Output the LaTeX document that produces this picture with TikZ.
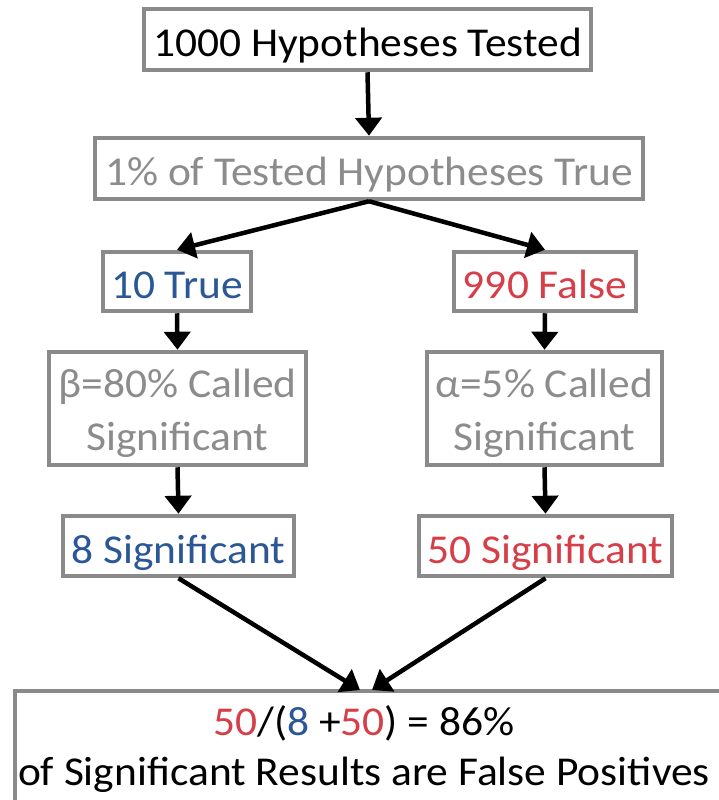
\documentclass[tikz,border=0pt]{standalone}
\usepackage{fontspec}
\setmainfont{Carlito}[FakeStretch=1.06]
\usetikzlibrary{arrows.meta}
\definecolor{boxgray}{HTML}{8A8A8A}
\definecolor{txtgray}{HTML}{8C8C8C}
\definecolor{tblue}{HTML}{2B5797}
\definecolor{tred}{HTML}{D63E48}
\newcommand{\firststrut}{\rule{0pt}{38pt}}
\begin{document}
\begin{tikzpicture}[x=1pt,y=-1pt,
  box/.style={draw=boxgray, line width=4.5pt, inner sep=0pt, fill=white,
    font=\fontsize{41}{53}\selectfont},
  oneline/.style={text height=34pt, text depth=0pt},
  twoline/.style={align=center},
  flow/.style={-{Triangle[width=26pt,length=18pt]}, line width=4.5pt, black}]
\useasboundingbox (0,0) rectangle (719,800);
\fill[white] (0,0) rectangle (719,800);

\node[box, oneline, minimum width=447pt, minimum height=61pt] (hyp) at (367.5,39.5) {1000 Hypotheses Tested};
\node[box, oneline, minimum width=548pt, minimum height=61pt, text=txtgray] (pct) at (369,168.5) {1\% of Tested Hypotheses True};
\node[box, oneline, minimum width=148pt, minimum height=59pt, text=tblue] (tr) at (177,281.5) {10 True};
\node[box, oneline, minimum width=182pt, minimum height=59pt, text=tred] (fl) at (545,281.5) {990 False};
\node[box, twoline, minimum width=257pt, minimum height=113pt, text=txtgray] (beta) at (177.5,408.5) {\firststrut β=80\% Called\\Significant};
\node[box, twoline, minimum width=235pt, minimum height=113pt, text=txtgray] (alpha) at (544.5,408.5) {\firststrut α=5\% Called\\Significant};
\node[box, oneline, minimum width=231pt, minimum height=60pt, text=tblue] (sig8) at (178.5,546) {8 Significant};
\node[box, oneline, minimum width=253pt, minimum height=60pt, text=tred] (sig50) at (545.5,546) {50 Significant};

\node[draw=boxgray, line width=4.5pt, inner sep=0pt, minimum width=720pt, minimum height=114pt] (res) at (375,748) {};
\node[inner sep=0pt, align=center, font=\fontsize{41}{50}\selectfont] (restext) at (364,749)
  {\textcolor{tred}{50}/(\textcolor{tblue}{8} +\textcolor{tred}{50}) = 86\%\\of Significant Results are False Positives};

\coordinate (inl) at (360,690);
\coordinate (inr) at (372,690);

\draw[flow] (hyp.south) -- (pct.north);
\draw[flow] (pct.south) -- (tr.north);
\draw[flow] (pct.south) -- (fl.north);
\draw[flow] (tr.south) -- (beta.north);
\draw[flow] (fl.south) -- (alpha.north);
\draw[flow] (beta.south) -- (sig8.north);
\draw[flow] (alpha.south) -- (sig50.north);
\draw[flow] (sig8.south) -- (inl);
\draw[flow] (sig50.south) -- (inr);
\end{tikzpicture}
\end{document}
